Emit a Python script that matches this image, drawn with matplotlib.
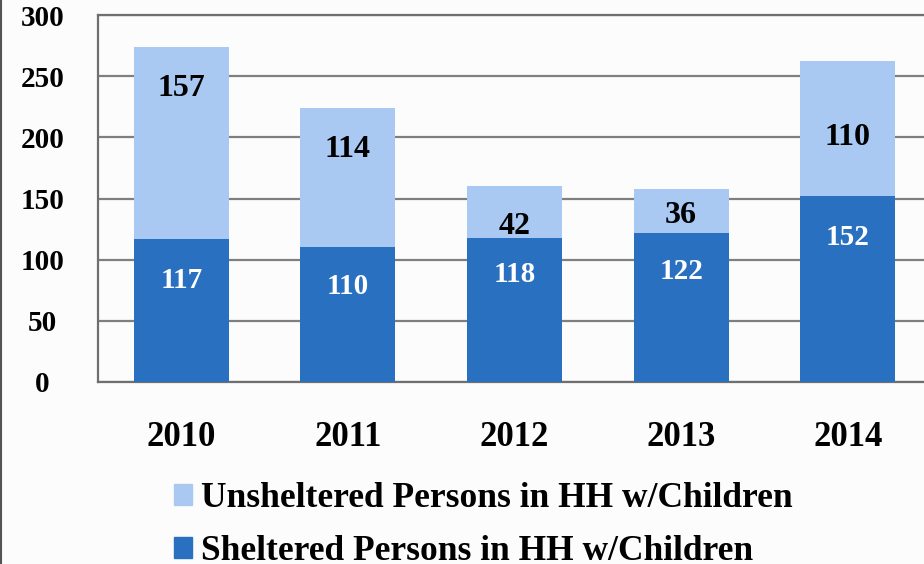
import numpy as np
import matplotlib.pyplot as plt
from matplotlib.patches import Patch
from matplotlib.lines import Line2D

# Data
years = ['2010', '2011', '2012', '2013', '2014']
sheltered = [117, 110, 118, 122, 152]
unsheltered = [157, 114, 42, 36, 110]

dark_blue = '#2A70C0'
light_blue = '#A9C9F3'
font = 'Liberation Serif'

fig = plt.figure(figsize=(9.24, 5.64), dpi=100)
fig.patch.set_facecolor('#FCFCFC')
ax = fig.add_axes([98 / 924, 1 - 382 / 564, 833 / 924, 367 / 564])
ax.set_facecolor('#FCFCFC')

x = np.arange(len(years))
ax.bar(x, sheltered, width=0.57, color=dark_blue, zorder=3)
ax.bar(x, unsheltered, width=0.57, bottom=sheltered, color=light_blue, zorder=3)

# label positions (data units), placed by hand in the original
shel_pos = [83, 78, 87.5, 90, 118.5]
unshel_pos = [240, 190, 127, 136.5, 200]
for i in range(len(years)):
    ax.text(x[i], shel_pos[i], str(sheltered[i]), ha='center', va='center',
            color='white', fontsize=21, fontweight='bold', family=font, zorder=4)
    ax.text(x[i], unshel_pos[i], str(unsheltered[i]), ha='center', va='center',
            color='black', fontsize=23, fontweight='bold', family=font, zorder=4)

ax.set_xlim(-0.5, 4.5)
ax.set_ylim(0, 300)
ax.set_yticks(range(0, 301, 50))
ax.yaxis.grid(True, color='#7F7F7F', linewidth=1.6, zorder=0)
ax.tick_params(length=0)
ax.set_yticklabels([str(v) for v in range(0, 301, 50)], fontsize=21,
                   fontweight='bold', family=font)
ax.tick_params(axis='y', pad=40)
for lab in ax.get_yticklabels():
    lab.set_horizontalalignment('center')
ax.set_xticks(x)
ax.set_xticklabels(years, fontsize=25, fontweight='bold', family=font)
ax.tick_params(axis='x', pad=28)
for side in ['left', 'top', 'bottom']:
    ax.spines[side].set_color('#6F6F6F')
    ax.spines[side].set_linewidth(1.6)
ax.spines['right'].set_visible(False)

handles = [Patch(color=light_blue), Patch(color=dark_blue)]
labels = ['Unsheltered Persons in HH w/Children', 'Sheltered Persons in HH w/Children']
fig.legend(handles, labels, loc='upper left', bbox_to_anchor=(0.173, 0.17),
           frameon=False, prop={'family': font, 'weight': 'bold', 'size': 25.5},
           handlelength=0.5, handleheight=0.55, handletextpad=0.25,
           labelspacing=0.55, borderaxespad=0)

fig.add_artist(Line2D([0.0015, 0.0015], [0, 1], color='#555555', linewidth=1.5))

fig.savefig('out.png', dpi=100, facecolor=fig.get_facecolor())
